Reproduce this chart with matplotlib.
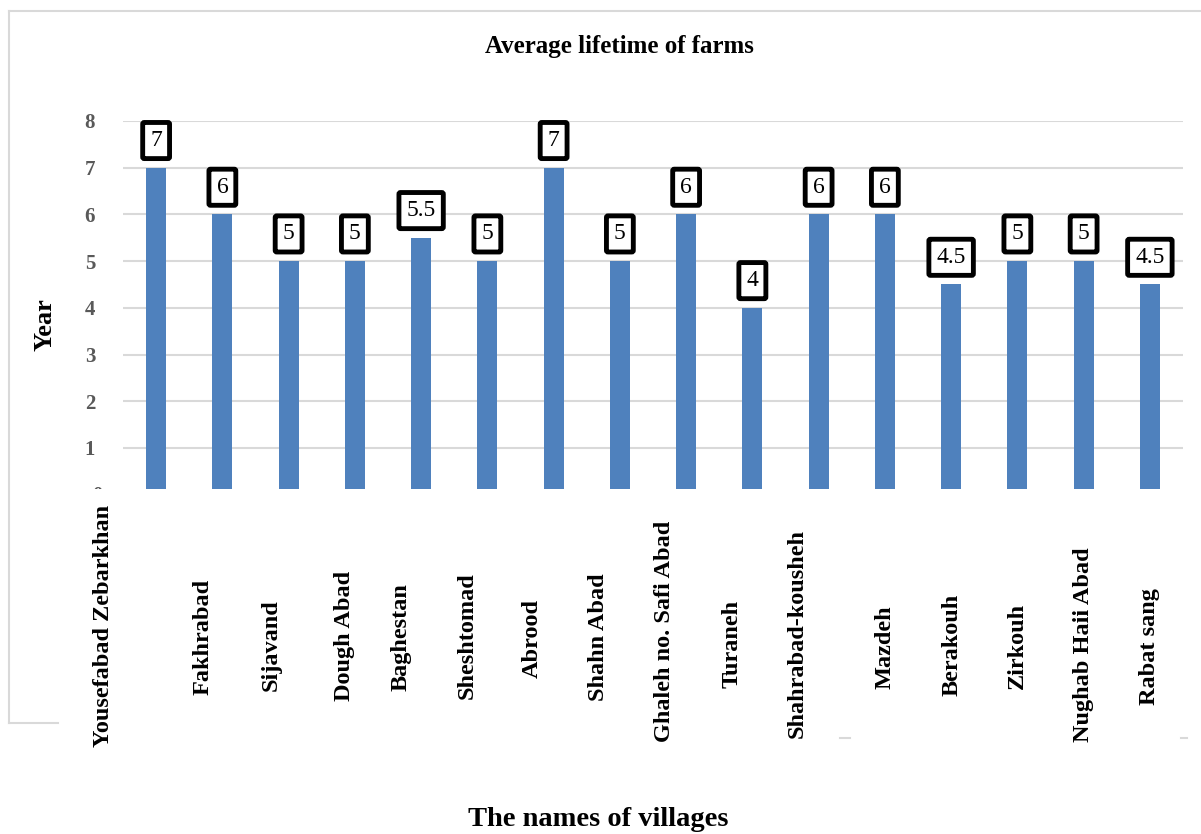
import matplotlib
matplotlib.use("Agg")
import matplotlib.pyplot as plt
from matplotlib.lines import Line2D
from matplotlib.transforms import blended_transform_factory, Bbox

villages = ["Yousefabad Zebarkhan", "Fakhrabad", "Sijavand", "Dough Abad", "Baghestan",
            "Sheshtomad", "Abrood", "Shahn Abad", "Ghaleh no. Safi Abad", "Turaneh",
            "Shahrabad-kousheh", "Mazdeh", "Berakouh", "Zirkouh", "Nughab Haii Abad",
            "Rabat sang"]
lifetime = [7, 6, 5, 5, 5.5, 5, 7, 5, 6, 4, 6, 6, 4.5, 5, 5, 4.5]
yticks = [1, 2, 3, 4, 5, 6, 7, 8]

# layout-only: horizontal shift (in bar slots) and vertical centre (px) of each category label
label_dx = [-0.80, -0.29, -0.27, -0.15, -0.30, -0.30, -0.32, -0.32, -0.33, -0.30, -0.32,
            0.0, 0.02, 0.0, 0.0, 0.0]
label_yc = [626, 637, 645, 636, 637, 636, 638, 637, 631, 644, 634, 647, 645, 646, 645, 647]

W, H = 1201, 834
plt.rcParams['font.family'] = ['Liberation Serif', 'DejaVu Serif']
fig = plt.figure(figsize=(W / 100, H / 100), dpi=100)
ax = fig.add_axes([123 / W, 1 - 489 / H, (1183 - 123) / W, (489 - 121) / H])

x = list(range(len(villages)))
bars = ax.bar(x, lifetime, width=0.30, color='#4F81BD', zorder=3)
ax.set_xlim(-0.5, len(villages) - 0.5)
ax.set_ylim(0.12, 8)
ax.set_yticks(yticks)
ax.set_yticklabels([str(t) for t in yticks], fontsize=15, fontweight='bold', color='#595959')
ax.tick_params(axis='y', length=0, pad=20)
ax.set_xticks([])
ax.grid(axis='y', color='#D9D9D9', linewidth=1.5, zorder=0)
for s in ax.spines.values():
    s.set_visible(False)

# data labels
for xi, v in zip(x, lifetime):
    ax.annotate(f"{v:g}", (xi, v), xytext=(0, 12), textcoords='offset points',
                ha='center', va='bottom', fontsize=17, color='black', zorder=5,
                bbox=dict(boxstyle='round,pad=0.32,rounding_size=0.07', fc='white',
                          ec='black', lw=3.5))

# category labels (rotated)
tr = blended_transform_factory(ax.transData, fig.transFigure)
for xi, name, dx, yc in zip(x, villages, label_dx, label_yc):
    ax.text(xi + dx, 1 - yc / H, name, transform=tr, rotation=90, ha='center', va='center',
            fontsize=17.5, fontweight='bold', color='black', clip_on=False)

# partially hidden zero label
t0 = fig.text(97 / W, 1 - 496 / H, "0", ha='center', va='center', fontsize=15,
              fontweight='bold', color='#595959')
t0.set_clip_box(Bbox.from_extents(0, H - 489, W, H))
t0.set_clip_on(True)

fig.text(619 / W, 1 - 47 / H, "Average lifetime of farms", ha='center', va='center',
         fontsize=18, fontweight='bold')
fig.text(45 / W, 1 - 325 / H, "Year", ha='center', va='center', rotation=90,
         fontsize=19, fontweight='bold')
fig.text(598 / W, 1 - 820 / H, "The names of villages", ha='center', va='center',
         fontsize=20.5, fontweight='bold')

# light chart border remnants
bc = '#D9D9D9'
fig.add_artist(Line2D([9 / W, 1.0], [1 - 11 / H, 1 - 11 / H], color=bc, lw=1.5))
fig.add_artist(Line2D([9 / W, 9 / W], [1 - 11 / H, 1 - 723 / H], color=bc, lw=1.5))
fig.add_artist(Line2D([9 / W, 58 / W], [1 - 723 / H, 1 - 723 / H], color=bc, lw=1.5))
fig.add_artist(Line2D([840 / W, 850 / W], [1 - 738 / H, 1 - 738 / H], color=bc, lw=1.5))
fig.add_artist(Line2D([1181 / W, 1187 / W], [1 - 738 / H, 1 - 738 / H], color=bc, lw=1.5))

fig.savefig("out.png", dpi=100, facecolor='white')
